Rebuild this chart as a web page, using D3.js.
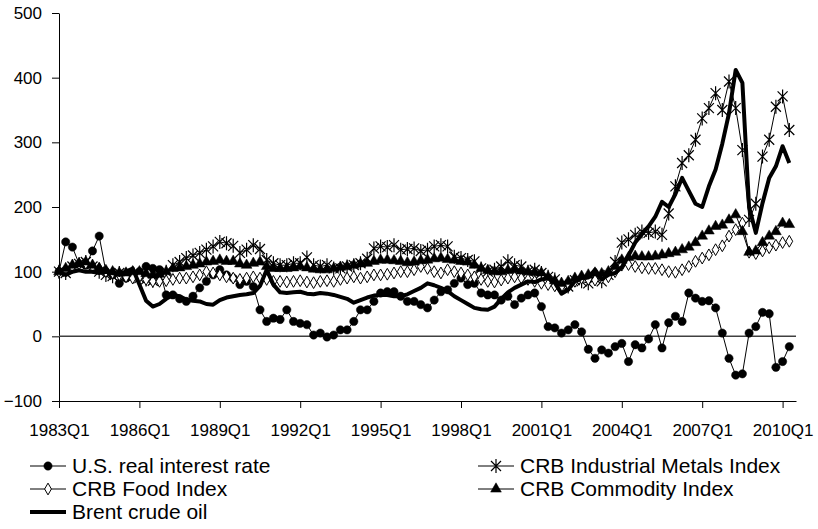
<!DOCTYPE html>
<html lang="en">
    <head>
        <meta charset="utf-8">
        <script src="https://cdn.jsdelivr.net/npm/d3@7"></script>
        <style>
            body { margin: 0; background: #fff; }
            text { font-family: "Liberation Sans", Arial, sans-serif; fill: #000; }
        </style>
    </head>
    <body>
        <svg id="mysvg" width="818" height="529"></svg>

        <script>

        // quarterly observations, 1983Q1 .. 2010Q2
        var startYear = 1983
        var tickLabels = ["1983Q1","1986Q1","1989Q1","1992Q1","1995Q1","1998Q1","2001Q1","2004Q1","2007Q1","2010Q1"]
        var yTicks = [-100, 0, 100, 200, 300, 400, 500]

        var realRate = [100,146,138,112,110,132,155,100,95,82,90,95,100,108,105,103,64,64,58,54,
            62,75,85,95,103,95,90,80,85,77,41,23,28,26,41,23,20,18,2,5,
            -1,2,10,10,23,41,41,54,67,69,69,62,54,54,49,44,56,69,72,82,
            90,80,82,67,64,64,56,62,49,59,64,67,46,15,13,5,10,18,7,-20,
            -34,-21,-26,-16,-11,-39,-13,-18,-4,18,-18,21,31,23,67,59,54,55,44,5,
            -34,-60,-58,5,15,37,35,-48,-39,-16]

        var metals = [100,98,108,112,115,108,100,95,93,98,95,92,90,88,86,92,100,110,115,121,
            125,129,134,139,146,144,140,129,134,141,135,118,113,110,110,113,113,122,110,108,
            110,105,105,108,110,113,120,136,139,138,141,134,135,136,132,134,139,141,139,123,
            121,118,116,105,100,103,108,116,110,108,100,103,98,92,88,80,77,87,85,82,
            90,85,95,115,145,150,157,162,160,162,157,190,232,268,280,304,337,353,376,350,
            394,353,288,180,205,278,304,355,371,319]

        var food = [100,102,108,112,113,108,105,100,98,95,92,90,92,88,85,85,86,88,90,90,
            92,95,100,98,95,92,90,88,90,92,90,88,85,85,84,85,86,84,83,85,
            86,85,88,90,92,90,92,95,95,96,98,100,100,103,108,105,100,98,103,100,
            98,95,92,88,85,84,87,90,92,90,88,85,82,80,78,77,80,85,90,88,
            87,90,92,100,110,111,108,106,105,105,103,100,99,103,108,116,121,126,134,140,
            155,165,175,130,128,132,137,141,145,147]

        var commodity = [100,105,110,112,115,110,105,102,100,98,98,100,100,97,95,96,100,105,106,108,
            110,112,115,116,118,116,116,112,110,113,115,108,105,105,105,106,108,106,104,103,
            103,105,107,108,110,112,113,116,118,118,117,116,114,115,117,118,120,121,119,118,
            116,115,110,105,102,100,100,102,103,101,100,99,98,92,86,82,85,90,93,95,
            98,97,100,108,118,122,124,123,123,124,126,128,130,134,138,145,155,163,170,172,
            180,188,162,130,132,145,155,162,175,173]

        var brent = [100,95,100,102,100,100,98,100,98,95,100,105,80,55,46,50,58,64,62,57,
            55,54,50,49,56,60,62,64,65,67,78,103,80,68,67,68,69,66,65,67,
            66,64,61,58,52,56,60,63,64,64,62,62,65,70,75,82,79,75,70,62,
            56,50,44,42,41,46,58,68,75,80,85,84,88,90,83,66,72,85,90,91,
            103,88,95,98,107,125,145,158,170,185,208,200,220,245,225,205,200,232,258,298,
            345,412,392,200,160,206,245,263,294,268]

        var quarters = realRate.map(function(d, i) {
            return (startYear + Math.floor(i / 4)) + "Q" + (i % 4 + 1)
        })

        var svg = d3.select("#mysvg")

        var x = d3.scaleLinear().domain([0, 110]).range([59, 796])
        var y = d3.scaleLinear().domain([-100, 500]).range([401, 13])

        // axes
        var yAxis = svg.append("g")
            .attr("transform", "translate(59,0)")
            .call(d3.axisLeft(y).tickValues(yTicks).tickSize(7).tickSizeOuter(0).tickPadding(10))
        yAxis.selectAll("text").style("font-size", "17px")

        var xAxis = svg.append("g")
            .attr("transform", "translate(0,401)")
            .call(d3.axisBottom(x)
                .tickValues(tickLabels.map(function(t) { return quarters.indexOf(t) }))
                .tickFormat(function(i) { return quarters[i] })
                .tickSize(7).tickSizeOuter(0).tickPadding(16))
        xAxis.selectAll("text").style("font-size", "17px")

        svg.selectAll(".domain, .tick line").attr("stroke", "#000")

        // zero line
        svg.append("line")
            .attr("x1", x(0)).attr("x2", x(110))
            .attr("y1", y(0)).attr("y2", y(0))
            .attr("stroke", "#404040")
            .attr("stroke-width", 1.5)

        var starPath = "M-5,-5L5,5M-5,5L5,-5M0,-7L0,7"

        var series = [
            {name: "U.S. real interest rate", values: realRate, width: 1, marker: "circle"},
            {name: "CRB Industrial Metals Index", values: metals, width: 1, marker: "star"},
            {name: "CRB Food Index", values: food, width: 1, marker: "diamond"},
            {name: "CRB Commodity Index", values: commodity, width: 1, marker: "triangle"},
            {name: "Brent crude oil", values: brent, width: 4, marker: null}
        ]

        function markerPath(type) {
            if (type == "circle") return d3.symbol().type(d3.symbolCircle).size(54)()
            if (type == "diamond") return d3.symbol().type(d3.symbolDiamond).size(40)()
            if (type == "triangle") return d3.symbol().type(d3.symbolTriangle).size(50)()
            return starPath
        }

        function drawMarker(g, type) {
            var p = g.append("path").attr("d", markerPath(type)).attr("stroke", "#000")
            if (type == "diamond") p.attr("fill", "#fff").attr("stroke-width", 1)
            else if (type == "star") p.attr("fill", "none").attr("stroke-width", 1.2)
            else p.attr("fill", "#000").attr("stroke-width", 0.5)
        }

        var line = d3.line()
            .x(function(d, i) { return x(i) })
            .y(function(d) { return y(d) })

        series.forEach(function(s) {
            svg.append("path")
                .attr("d", line(s.values))
                .attr("fill", "none")
                .attr("stroke", "#000")
                .attr("stroke-width", s.width)
                .attr("stroke-linejoin", "round")

            if (s.marker) {
                s.values.forEach(function(v, i) {
                    var g = svg.append("g").attr("transform", "translate(" + x(i) + "," + y(v) + ")")
                    drawMarker(g, s.marker)
                })
            }
        })

        // legend, filled row by row in two columns
        var legendPos = [[30, 466], [478, 466], [30, 489], [478, 489], [30, 512]]
        series.forEach(function(s, k) {
            var g = svg.append("g").attr("transform", "translate(" + legendPos[k][0] + "," + legendPos[k][1] + ")")
            g.append("line")
                .attr("x1", 0).attr("x2", 36)
                .attr("stroke", "#000")
                .attr("stroke-width", s.width)
            if (s.marker) {
                drawMarker(g.append("g").attr("transform", "translate(18,0)"), s.marker)
            }
            g.append("text")
                .attr("x", 42)
                .attr("dy", "0.35em")
                .style("font-size", "21px")
                .text(s.name)
        })
        </script>
    </body>
</html>
